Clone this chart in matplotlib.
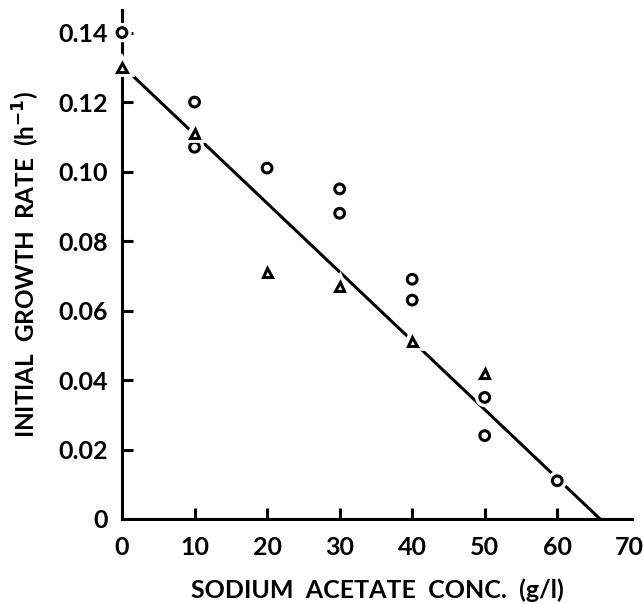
import numpy as np
import matplotlib
matplotlib.use('Agg')
import matplotlib.pyplot as plt
import matplotlib.patheffects as pe

# circles
circ_x = [0, 10, 10, 20, 30, 30, 40, 40, 50, 50, 60]
circ_y = [0.140, 0.120, 0.107, 0.101, 0.095, 0.088, 0.069, 0.063, 0.035, 0.024, 0.011]
# triangles
tri_x = [0, 10, 20, 30, 40, 50]
tri_y = [0.130, 0.111, 0.071, 0.067, 0.051, 0.042]
# fitted line end points
fit_x = [0, 65.9]
fit_y = [0.1305, 0.0]

xticks = [0, 10, 20, 30, 40, 50, 60, 70]
yticks = [0, 0.02, 0.04, 0.06, 0.08, 0.10, 0.12, 0.14]
ytick_labels = ['0', '0.02', '0.04', '0.06', '0.08', '0.10', '0.12', '0.14']

plt.rcParams['font.family'] = ['Lato', 'DejaVu Sans']
plt.rcParams['font.weight'] = 'bold'
plt.rcParams['axes.labelweight'] = 'bold'
plt.rcParams['mathtext.default'] = 'bf'

fig = plt.figure(figsize=(6.43, 6.04), dpi=100)
ax = fig.add_axes([122/643, 1-519/604, 510/643, 509/604])

ax.plot(fit_x, fit_y, color='black', lw=2.2, zorder=2, solid_capstyle='butt')

stroke = [pe.withStroke(linewidth=7, foreground='white')]
ax.plot(circ_x, circ_y, 'o', ms=7, mfc='white', mec='black', mew=2.2,
        linestyle='none', zorder=4, path_effects=stroke, clip_on=False)
ax.plot(tri_x, tri_y, '^', ms=6.5, mfc='white', mec='black', mew=2.2,
        linestyle='none', zorder=4, path_effects=stroke, clip_on=False)

ax.set_xlim(0, 70.3)
ax.set_ylim(0, 0.1465)
ax.set_xticks(xticks)
ax.set_yticks(yticks)
ax.set_yticklabels(ytick_labels)

for s in ['top', 'right']:
    ax.spines[s].set_visible(False)
for s in ['left', 'bottom']:
    ax.spines[s].set_linewidth(2.2)
    ax.spines[s].set_zorder(1)

ax.tick_params(direction='in', length=8, width=2.2, labelsize=18, pad=10)
ax.tick_params(axis='x', pad=12)
# no tick marks at the corner or at 70
ax.xaxis.get_major_ticks()[0].tick1line.set_visible(False)
ax.xaxis.get_major_ticks()[-1].tick1line.set_visible(False)
ax.yaxis.get_major_ticks()[0].tick1line.set_visible(False)

ax.set_xlabel('SODIUM  ACETATE  CONC.  (g/l)', fontsize=18, labelpad=14)
ax.set_ylabel('INITIAL  GROWTH  RATE  (h$^{-1}$)', fontsize=17.5, labelpad=12)

fig.savefig('out.png', dpi=100)
